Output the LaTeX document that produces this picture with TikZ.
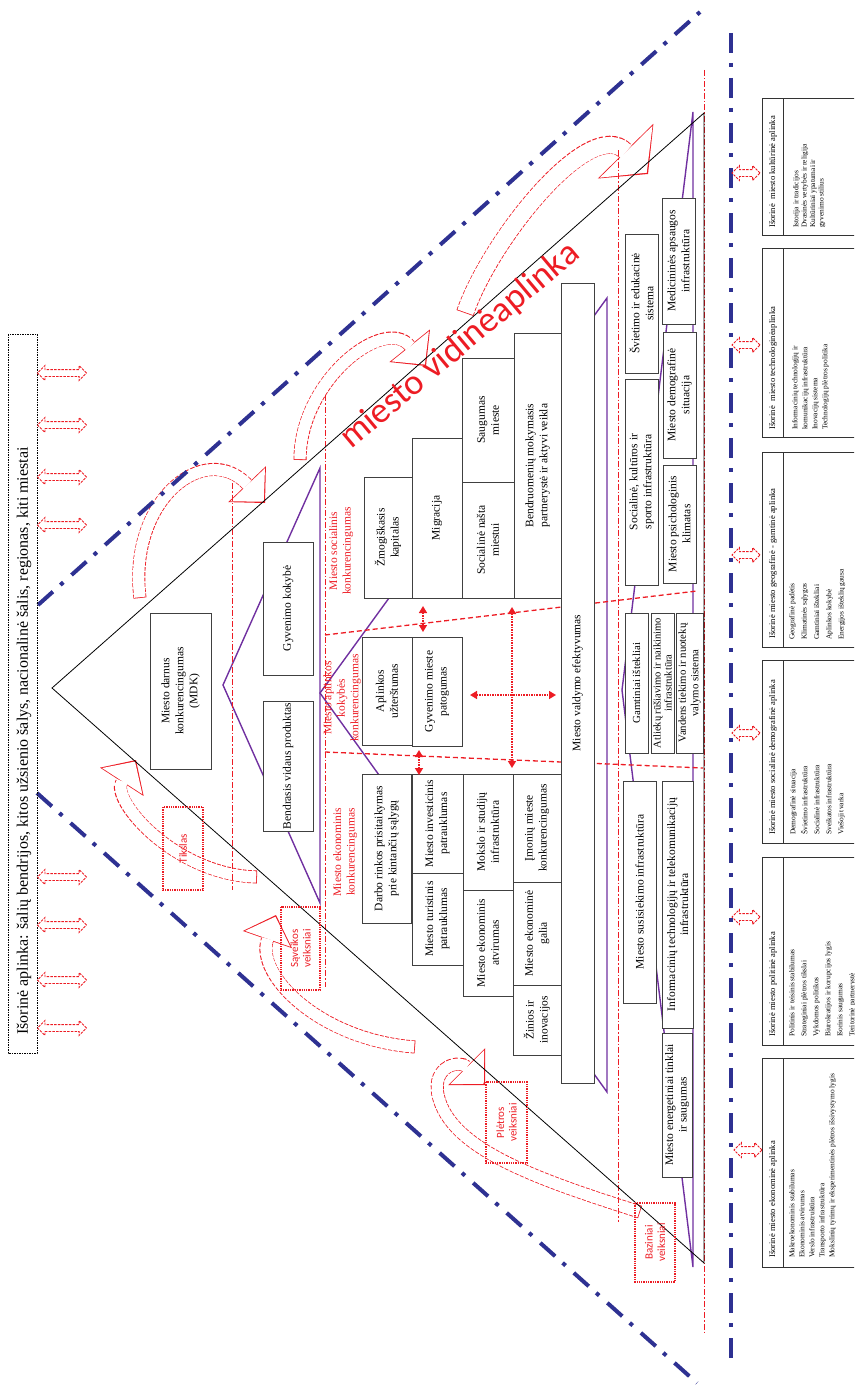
\documentclass[tikz,border=0pt]{standalone}
\usepackage{fontspec}
\setmainfont{Liberation Serif}
\newfontfamily\calibfont{Carlito}
\usepackage{tikz}
\usetikzlibrary{shapes, arrows.meta, positioning, calc}
\definecolor{vidred}{RGB}{237, 28, 36}
\definecolor{dashblue}{RGB}{46, 49, 146}
\definecolor{pyrviolet}{RGB}{112, 48, 160}

\tikzset{
  blk/.style={draw=black!75, fill=white, line width=0.9pt, rotate=90, align=center, inner sep=1pt, font=\fontsize{11.5}{14}\selectfont},
  seclab/.style={text=vidred, rotate=90, align=center, inner sep=0pt, font=\fontsize{11.5}{13.5}\selectfont},
  factbox/.style={draw=vidred, densely dotted, line width=1.3pt, rotate=90, align=center, text=vidred, inner sep=1pt, font=\calibfont\fontsize{11}{12.5}\selectfont},
  titlebox/.style={draw=black, dash pattern=on 1.5pt off 1pt, line width=0.8pt, rotate=90, inner sep=0pt},
  xarr/.style={double arrow, draw=vidred, dash pattern=on 2.5pt off 1.2pt, line width=0.9pt, double arrow head extend=4pt, inner xsep=0pt, inner ysep=3pt},
  ext/.style={draw=black!80, line width=0.9pt},
  exthead/.style={rotate=90, anchor=west, inner sep=0pt, font=\fontsize{8.6}{9}\selectfont},
  extitem/.style={rotate=90, anchor=north west, align=left, inner sep=0pt},
  harrout/.style={draw=vidred, line width=13pt, dash pattern=on 4pt off 1.5pt, -{Triangle[length=26pt, width=52pt, line width=0pt]}},
  harrin/.style={draw=white, line width=11.4pt, shorten >=1.8pt, shorten <=0.8pt, -{Triangle[length=23.4pt, width=48pt, line width=0pt]}},
  bigout/.style={draw=vidred, line width=18pt, dash pattern=on 4pt off 1.5pt, -{Triangle[length=32pt, width=78pt, line width=0pt]}},
  bigin/.style={draw=white, line width=16.4pt, shorten >=1.8pt, shorten <=0.8pt, -{Triangle[length=29.4pt, width=74pt, line width=0pt]}},
  bluedd/.style={draw=dashblue, line width=4pt, dash pattern=on 20pt off 10pt on 4pt off 11pt},
  reddd/.style={draw=vidred, line width=0.9pt, dash pattern=on 6pt off 2pt on 1.5pt off 2pt},
  sepline/.style={draw=vidred, line width=1.3pt, dash pattern=on 5pt off 3pt},
  pyr/.style={draw=pyrviolet, line width=1.4pt},
  redarr/.style={draw=vidred, line width=1.6pt, densely dotted, {Triangle[length=7pt,width=8pt]}-{Triangle[length=7pt,width=8pt]}}
}
\newcommand{\harrow}[1]{\draw[harrout] #1; \draw[harrin] #1;}
\newcommand{\bigharrow}[1]{\draw[bigout] #1; \draw[bigin] #1;}

\begin{document}
\begin{tikzpicture}[x=1pt, y=-1pt]
  \useasboundingbox (0,0) rectangle (854,1386);
  \clip (0,0) rectangle (854,1386);

  % curved factor arrows
  \harrow{(140,598) .. controls (128,500) and (205,440) .. (265,503)}
  \harrow{(300,460) .. controls (300,380) and (385,315) .. (426,366)}
  \bigharrow{(465,313) .. controls (490,240) and (590,115) .. (648,174)}
  \harrow{(257,877) .. controls (175,875) and (110,800) .. (136,760)}
  \harrow{(415,1047) .. controls (320,1040) and (255,975) .. (276,915)}
  \harrow{(640,1212) .. controls (540,1180) and (450,1150) .. (438,1095) .. controls (432,1065) and (460,1060) .. (485,1085)}

  % pyramid layers
  \draw[pyr] (223,685) -- (320,468) -- (320,903) -- cycle;
  \draw[pyr] (320,693) -- (607,298) -- (607,1092) -- cycle;
  \draw[pyr] (622,690) -- (693,112) -- (693,1267) -- cycle;

  \draw[reddd] (232,483) -- (232,890);
  \draw[reddd] (325,395) -- (325,987);
  \draw[reddd] (618,150) -- (618,1222);
  \draw[reddd] (704,70) -- (704,1332);
  \draw[sepline] (325,635) -- (697,591);
  \draw[sepline] (325,752) -- (703,768);

  \draw[line width=0.8pt] (52,688) -- (704,113) -- (704,1263) -- cycle;

  \draw[bluedd] (38,605) -- (700,12);
  \draw[bluedd] (37,793) -- (697,1383);
  \draw[bluedd] (731,33) -- (731,1362);

  % inner blocks
  \node[blk, minimum width=156, minimum height=61] (mdk) at (180.5,691) {Miesto darnus\\konkurencingumas\\(MDK)};
  \node[blk, minimum width=133, minimum height=50] (gk) at (288,608.5) {Gyvenimo kokybė};
  \node[blk, minimum width=130, minimum height=50] (bvp) at (288,766) {Bendrasis vidaus produktas};

  \node[blk, minimum width=121, minimum height=48] (zmk) at (388,537.5) {Žmogiškasis\\kapitalas};
  \node[blk, minimum width=160, minimum height=50] (migr) at (437,518) {Migracija};
  \node[blk, minimum width=124, minimum height=52] (saug) at (488,420) {Saugumas\\mieste};
  \node[blk, minimum width=116, minimum height=52] (sock) at (488,540) {Socialinė našta\\miestui};
  \node[blk, minimum width=265, minimum height=47] (bend) at (537.5,465.5) {Bendruomenių mokymasis\\partnerystė ir aktyvi veikla};
  \node[blk, minimum width=800, minimum height=33] (mve) at (577.5,683) {Miesto valdymo efektyvumas};

  \node[blk, minimum width=108, minimum height=50] (apu) at (387,691) {Aplinkos\\užterštumas};
  \node[blk, minimum width=109, minimum height=50] (gmp) at (437,691.5) {Gyvenimo mieste\\patogumas};

  \node[blk, minimum width=149, minimum height=49] (drp) at (386.5,848.5) {Darbo rinkos prisitaikymas\\prie kintančių sąlygų};
  \node[blk, minimum width=99, minimum height=51] (mip) at (437.5,823.5) {Miesto investicinis\\patrauklumas};
  \node[blk, minimum width=92, minimum height=51] (mtp) at (437.5,919) {Miesto turistinis\\patrauklumas};
  \node[blk, minimum width=116, minimum height=50] (msi) at (488,832) {Mokslo ir studijų\\infrastruktūra};
  \node[blk, minimum width=106, minimum height=50] (mea) at (488,943) {Miesto ekonominis\\atvirumas};
  \node[blk, minimum width=108, minimum height=48] (imk) at (537,828) {Įmonių mieste\\konkurencingumas};
  \node[blk, minimum width=103, minimum height=48] (meg) at (537,933.5) {Miesto ekonominė\\galia};
  \node[blk, minimum width=70, minimum height=48] (zi) at (537,1020) {Žinios ir\\inovacijos};

  \node[blk, minimum width=139, minimum height=33] (sves) at (641.5,303.5) {Švietimo ir edukacinė\\sistema};
  \node[blk, minimum width=126, minimum height=33] (med) at (678.5,261) {Medicininės apsaugos\\infrastruktūra};
  \node[blk, minimum width=206, minimum height=33] (sksi) at (641.5,482) {Socialinė, kultūros ir\\sporto infrastruktūra};
  \node[blk, minimum width=126, minimum height=33] (mds) at (679.5,395) {Miesto demografinė\\situacija};
  \node[blk, minimum width=118, minimum height=33] (mpk) at (679.5,524) {Miesto psichologinis\\klimatas};
  \node[blk, minimum width=140, minimum height=23, font=\fontsize{10.8}{11}\selectfont] (gi) at (636.5,683) {Gamtiniai ištekliai};
  \node[blk, minimum width=140, minimum height=23, font=\fontsize{10.5}{11}\selectfont] (ari) at (662.5,683) {Atliekų rūšiavimo ir naikinimo\\infrastruktūra};
  \node[blk, minimum width=140, minimum height=27, font=\fontsize{10.8}{12.5}\selectfont] (vtn) at (689.5,683) {Vandens tiekimo ir nuotekų\\valymo sistema};
  \node[blk, minimum width=222, minimum height=33] (msus) at (639.5,892) {Miesto susisiekimo infrastruktūra};
  \node[blk, minimum width=247, minimum height=31, font=\fontsize{11.5}{13}\selectfont] (itt) at (677.5,904.5) {Informacinių technologijų ir telekomunikacijų\\infrastruktūra};
  \node[blk, minimum width=144, minimum height=30, font=\fontsize{11.5}{13.5}\selectfont] (metr) at (677,1105) {Miesto energetiniai tinklai\\ir saugumas};

  % sector labels and arrows between sectors
  \node[seclab] (socl) at (341,551) {Miesto socialinis\\konkurencingumas};
  \node[seclab] (apll) at (342,698) {Miesto aplinkos\\kokybės\\konkurencingumas};
  \node[seclab] (ekol) at (345,852) {Miesto ekonominis\\konkurencingumas};

  \coordinate (s1a) at (423,606); \coordinate (s1b) at (423,632);
  \coordinate (s2a) at (419,750); \coordinate (s2b) at (419,775);
  \coordinate (vca) at (512,607); \coordinate (vcb) at (512,768);
  \coordinate (hca) at (470,695); \coordinate (hcb) at (556,695);
  \draw[redarr] (s1a) -- (s1b);
  \draw[redarr] (s2a) -- (s2b);
  \draw[redarr] (vca) -- (vcb);
  \draw[redarr] (hca) -- (hcb);

  \node[factbox, minimum width=83, minimum height=40] (tiks) at (183,848.5) {Tikslas};
  \node[factbox, minimum width=83, minimum height=39] (sav) at (300.5,948.5) {Sąveikos\\veiksniai};
  \node[factbox, minimum width=81, minimum height=41] (plet) at (506.5,1122.5) {Plėtros\\veiksniai};
  \node[factbox, minimum width=79, minimum height=40] (baz) at (655,1242.5) {Baziniai\\veiksniai};

  \node[text=vidred, rotate=40, inner sep=0pt, font=\calibfont\fontsize{36}{36}\selectfont] (vid) at (460,346) {miesto vidinėaplinka};

  % outer environment
  \node[titlebox, minimum width=719, minimum height=29] (outer) at (22.5,693.5) {};
  \node[rotate=90, anchor=west, inner sep=0pt, font=\fontsize{16}{16}\selectfont] (outertxt) at (24,1035) {Išorinė aplinka: šalių bendrijos, kitos užsienio šalys, nacionalinė šalis, regionas, kiti miestai};

  \node[xarr, minimum height=49] (la1) at (62,373) {};
  \node[xarr, minimum height=49] (la2) at (62,425) {};
  \node[xarr, minimum height=49] (la3) at (62,477) {};
  \node[xarr, minimum height=49] (la4) at (62,525) {};
  \node[xarr, minimum height=49] (la5) at (62,877) {};
  \node[xarr, minimum height=49] (la6) at (62,925) {};
  \node[xarr, minimum height=49] (la7) at (62,980) {};
  \node[xarr, minimum height=49] (la8) at (62,1028) {};

  \node[xarr, minimum height=28] (ra1) at (746,173) {};
  \node[xarr, minimum height=28] (ra2) at (746,345) {};
  \node[xarr, minimum height=28] (ra3) at (746,555) {};
  \node[xarr, minimum height=28] (ra4) at (746,733) {};
  \node[xarr, minimum height=28] (ra5) at (746,917) {};
  \node[xarr, minimum height=28] (ra6) at (748,1150) {};

  \draw[ext] (762,98) rectangle (783,235);   \draw[ext] (783,98) rectangle (870,235);
  \draw[ext] (762,248) rectangle (783,437);  \draw[ext] (783,248) rectangle (870,437);
  \draw[ext] (762,452) rectangle (783,647);  \draw[ext] (783,452) rectangle (870,647);
  \draw[ext] (762,660) rectangle (783,843);  \draw[ext] (783,660) rectangle (870,843);
  \draw[ext] (762,857) rectangle (783,1045); \draw[ext] (783,857) rectangle (870,1045);
  \draw[ext] (762,1058) rectangle (783,1267); \draw[ext] (783,1058) rectangle (870,1267);

  \node[exthead] (kulth) at (773,228) {Išorinė\ \ miesto kultūrinė aplinka};
  \node[extitem, font=\fontsize{7.4}{8.4}\selectfont] (kultl) at (793,228) {Istorija ir tradicijos\\Dvasinės vertybės ir religija\\Kultūriniai ypatumai ir\\gyvenimo stilius};
  \node[exthead] (techh) at (773,430) {Išorinė\ \ miesto technologinėaplinka};
  \node[extitem, font=\fontsize{7.4}{10}\selectfont] (techl) at (792,430) {Informacinių technologijų ir\\komunikacijų infrastruktūra\\Inovacijų sistema\\Technologijų plėtros politika};
  \node[exthead] (geoh) at (773,639) {Išorinė miesto geografinė - gamtinė aplinka};
  \node[extitem, font=\fontsize{7.4}{12.3}\selectfont] (geol) at (789,640) {Geografinė padėtis\\Klimatinės sąlygos\\Gamtiniai ištekliai\\Aplinkos kokybė\\Energijos išteklių gausa};
  \node[exthead] (soch) at (773,835) {Išorinė miesto socialinė demografinė aplinka};
  \node[extitem, font=\fontsize{7.4}{12}\selectfont] (socl2) at (790,835) {Demografinė situacija\\Švietimo infrastruktūra\\Socialinė infrastruktūra\\Sveikatos infrastruktūra\\Viešoji tvarka};
  \node[exthead] (polh) at (773,1037) {Išorinė miesto politinė aplinka};
  \node[extitem, font=\fontsize{7.4}{12}\selectfont] (poll) at (789,1037) {Politinis ir teisinis stabilumas\\Strateginiai plėtros tikslai\\Vykdomos politikos\\Biurokratijos ir korupcijos lygis\\Išorinis saugumas\\Teritorinė partnerystė};
  \node[exthead] (ekoh) at (773,1258) {Išorinė miesto ekonominė aplinka};
  \node[extitem, font=\fontsize{7.4}{10}\selectfont] (ekol2) at (789,1258) {Makroekonominis stabilumas\\Ekonominis atvirumas\\Verslo infrastruktūra\\Transporto infrastruktūra\\Mokslinių tyrimų ir eksperimentinės plėtros išsivystymo lygis};
\end{tikzpicture}
\end{document}
